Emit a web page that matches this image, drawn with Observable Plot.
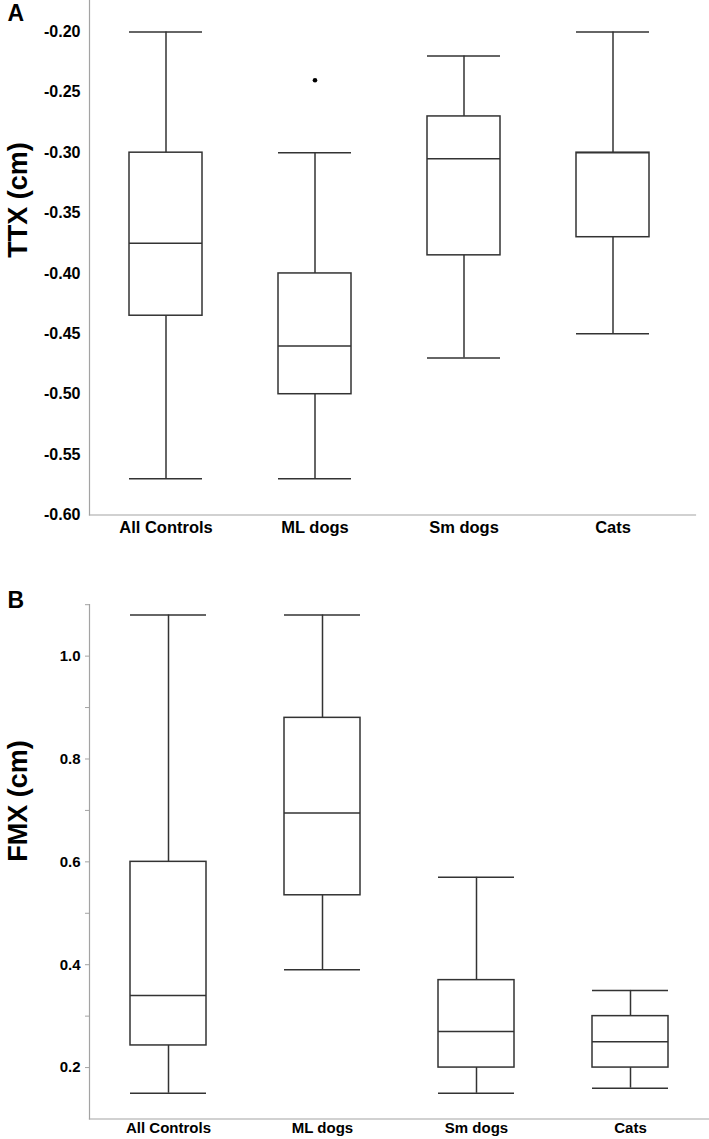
<!DOCTYPE html>
<html>
<head>
<meta charset="utf-8">
<script src="https://cdn.jsdelivr.net/npm/d3@7"></script>
<script src="https://cdn.jsdelivr.net/npm/@observablehq/plot@0.6"></script>
<style>
  html, body { margin: 0; padding: 0; background: #fff; }
  #wrap { position: relative; width: 709px; height: 1139px; overflow: hidden; }
  #wrap svg { position: absolute; left: 0; }
</style>
</head>
<body>
<div id="wrap"></div>
<script>
// ---- Data ----
const groups = ["All Controls", "ML dogs", "Sm dogs", "Cats"];

// Panel A: TTX (cm)
const ttxLow    = [-0.57, -0.57, -0.47, -0.45];
const ttxQ1     = [-0.435, -0.50, -0.385, -0.37];
const ttxMedian = [-0.375, -0.46, -0.305, -0.30];
const ttxQ3     = [-0.30, -0.40, -0.27, -0.30];
const ttxHigh   = [-0.20, -0.30, -0.22, -0.20];
const ttxOutlierGroups = ["ML dogs"];
const ttxOutlierValues = [-0.24];
const ttxTicks = [-0.60, -0.55, -0.50, -0.45, -0.40, -0.35, -0.30, -0.25, -0.20];

// Panel B: FMX (cm)
const fmxLow    = [0.15, 0.39, 0.15, 0.16];
const fmxQ1     = [0.243, 0.535, 0.20, 0.20];
const fmxMedian = [0.34, 0.695, 0.27, 0.25];
const fmxQ3     = [0.60, 0.88, 0.37, 0.30];
const fmxHigh   = [1.08, 1.08, 0.57, 0.35];
const fmxTicks      = [0.2, 0.4, 0.6, 0.8, 1.0];
const fmxMinorTicks = [0.3, 0.5, 0.7, 0.9, 1.1];

// ---- Build tables ----
const ttx = groups.map((g, i) => ({group: g, lo: ttxLow[i], q1: ttxQ1[i], med: ttxMedian[i], q3: ttxQ3[i], hi: ttxHigh[i]}));
const ttxOut = ttxOutlierGroups.map((g, i) => ({group: g, v: ttxOutlierValues[i]}));
const fmx = groups.map((g, i) => ({group: g, lo: fmxLow[i], q1: fmxQ1[i], med: fmxMedian[i], q3: fmxQ3[i], hi: fmxHigh[i]}));

const FONT = "'Liberation Sans', Arial, Helvetica, sans-serif";
const INK = "#333";
const AXIS = "#a3a3a3";

function boxMarks(data) {
  return [
    Plot.ruleX(data, {x: "group", y1: "lo", y2: "hi", stroke: INK, strokeWidth: 1.5}),
    Plot.barY(data, {x: "group", y1: "q1", y2: "q3", fill: "white", stroke: INK, strokeWidth: 1.5}),
    Plot.tickY(data, {x: "group", y: "med", stroke: INK, strokeWidth: 1.5}),
    Plot.tickY(data, {x: "group", y: "lo", stroke: INK, strokeWidth: 1.5}),
    Plot.tickY(data, {x: "group", y: "hi", stroke: INK, strokeWidth: 1.5})
  ];
}

// ---- Panel A ----
const plotA = Plot.plot({
  width: 709,
  height: 545,
  marginLeft: 89,
  marginRight: 14,
  marginTop: 0,
  marginBottom: 30.5,
  style: {fontFamily: FONT, fontWeight: "bold", color: "#000", background: "white"},
  x: {domain: groups, range: [89.75, 687.75], paddingInner: 0.51, paddingOuter: 0.255},
  y: {domain: [-0.6, -0.174]},
  marks: [
    Plot.frame({anchor: "left", stroke: AXIS, strokeWidth: 1.2}),
    Plot.frame({anchor: "bottom", stroke: AXIS, strokeWidth: 1.2}),
    Plot.axisY({ticks: ttxTicks, tickFormat: d => d.toFixed(2), tickSize: 0, tickPadding: 9, fontSize: 16, fontWeight: "bold", label: null}),
    Plot.axisX({tickSize: 0, tickPadding: 6, fontSize: 16.5, fontWeight: "bold", label: null}),
    ...boxMarks(ttx),
    Plot.dot(ttxOut, {x: "group", y: "v", r: 2.3, fill: "#000", stroke: null}),
    Plot.text(["TTX (cm)"], {frameAnchor: "left", dx: -71, rotate: -90, fontSize: 27, fontWeight: "bold", fill: "#000"}),
    Plot.text(["A"], {frameAnchor: "top-left", dx: -82, dy: 4, lineAnchor: "top", textAnchor: "start", fontSize: 23, fontWeight: "bold", fill: "#000"})
  ]
});
plotA.style.top = "0px";

// ---- Panel B ----
const plotB = Plot.plot({
  width: 709,
  height: 579,
  marginLeft: 89,
  marginRight: 0,
  marginTop: 44.2,
  marginBottom: 20.5,
  style: {fontFamily: FONT, fontWeight: "bold", color: "#000", background: "white"},
  x: {domain: groups, range: [89.8, 707.5], paddingInner: 0.508, paddingOuter: 0.254},
  y: {domain: [0.1, 1.1]},
  marks: [
    Plot.frame({anchor: "left", stroke: AXIS, strokeWidth: 1.2}),
    Plot.frame({anchor: "bottom", stroke: AXIS, strokeWidth: 1.2}),
    Plot.axisY({ticks: fmxTicks, tickFormat: d => d.toFixed(1), tickSize: 4, tickPadding: 5, stroke: AXIS, fontSize: 15, fontWeight: "bold", label: null}),
    Plot.axisY({ticks: fmxMinorTicks, tickFormat: () => "", tickSize: 4, stroke: AXIS, label: null}),
    Plot.axisX({tickSize: 0, tickPadding: 3, fontSize: 15, fontWeight: "bold", label: null}),
    ...boxMarks(fmx),
    Plot.text(["FMX (cm)"], {frameAnchor: "left", dx: -71, rotate: -90, fontSize: 27, fontWeight: "bold", fill: "#000"}),
    Plot.text(["B"], {frameAnchor: "top-left", dx: -82, dy: -13, lineAnchor: "top", textAnchor: "start", fontSize: 23, fontWeight: "bold", fill: "#000"})
  ]
});
plotB.style.top = "560px";

const wrap = document.getElementById("wrap");
wrap.appendChild(plotA);
wrap.appendChild(plotB);
</script>
</body>
</html>
